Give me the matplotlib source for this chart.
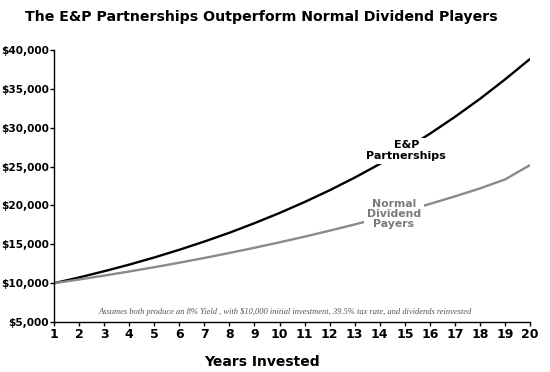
import numpy as np
import matplotlib.pyplot as plt

plt.rcParams['font.family'] = 'DejaVu Sans'

# data
years = list(range(1, 21))
ep_partnerships = [10000, 10740, 11540, 12390, 13310, 14300, 15360, 16490, 17720, 19030,
                   20440, 21950, 23580, 25330, 27200, 29220, 31390, 33710, 36210, 38850]
normal_dividend = [10000, 10480, 10980, 11510, 12060, 12640, 13250, 13890, 14560, 15260,
                   15990, 16760, 17560, 18400, 19280, 20200, 21170, 22190, 23350, 25200]
y_ticks = [5000, 10000, 15000, 20000, 25000, 30000, 35000, 40000]

fig = plt.figure(figsize=(5.5, 3.72), dpi=100)
ax = fig.add_axes([0.098, 0.134, 0.866, 0.732])

ax.plot(years, ep_partnerships, color="black", lw=1.7, solid_capstyle="butt")
ax.plot(years, normal_dividend, color="#8a8a8a", lw=1.7, solid_capstyle="butt")

ax.set_xlim(1, 20)
ax.set_ylim(5000, 40000)
ax.set_xticks(years)
ax.set_yticks(y_ticks)
ax.set_yticklabels([f"${v:,.0f}" for v in y_ticks])

for s in ["top", "right"]:
    ax.spines[s].set_visible(False)
for s in ["left", "bottom"]:
    ax.spines[s].set_linewidth(1.0)
ax.tick_params(axis="both", length=3, width=1, pad=1)
ax.tick_params(axis="y", pad=0.5)
for lbl in ax.get_xticklabels():
    lbl.set_fontweight("bold")
    lbl.set_fontsize(9)
for lbl in ax.get_yticklabels():
    lbl.set_fontweight("bold")
    lbl.set_fontsize(7.6)

# series labels over the lines (white box hides the line behind)
ax.text(0.74, 0.629, "E&P\nPartnerships", transform=ax.transAxes, ha="center", va="center",
        fontsize=8, fontweight="bold", color="black", linespacing=1.1,
        bbox=dict(facecolor="white", edgecolor="none", pad=2))
ax.text(0.714, 0.397, "Normal\nDividend\nPayers", transform=ax.transAxes, ha="center", va="center",
        fontsize=7.8, fontweight="bold", color="#7a7a7a", linespacing=1.05,
        bbox=dict(facecolor="white", edgecolor="none", pad=2))

ax.text(0.485, 0.037, "Assumes both produce an 8% Yield , with $10,000 initial investment, "
        "39.5% tax rate, and dividends reinvested", transform=ax.transAxes,
        ha="center", va="center", fontsize=6.1, fontstyle="italic",
        family="Liberation Serif", color="#555555")

fig.text(0.476, 0.954, "The E&P Partnerships Outperform Normal Dividend Players",
         ha="center", va="center", fontsize=10.2, fontweight="bold")
fig.text(0.476, 0.027, "Years Invested", ha="center", va="center",
         fontsize=10, fontweight="bold")

fig.savefig("out.png", dpi=100)
